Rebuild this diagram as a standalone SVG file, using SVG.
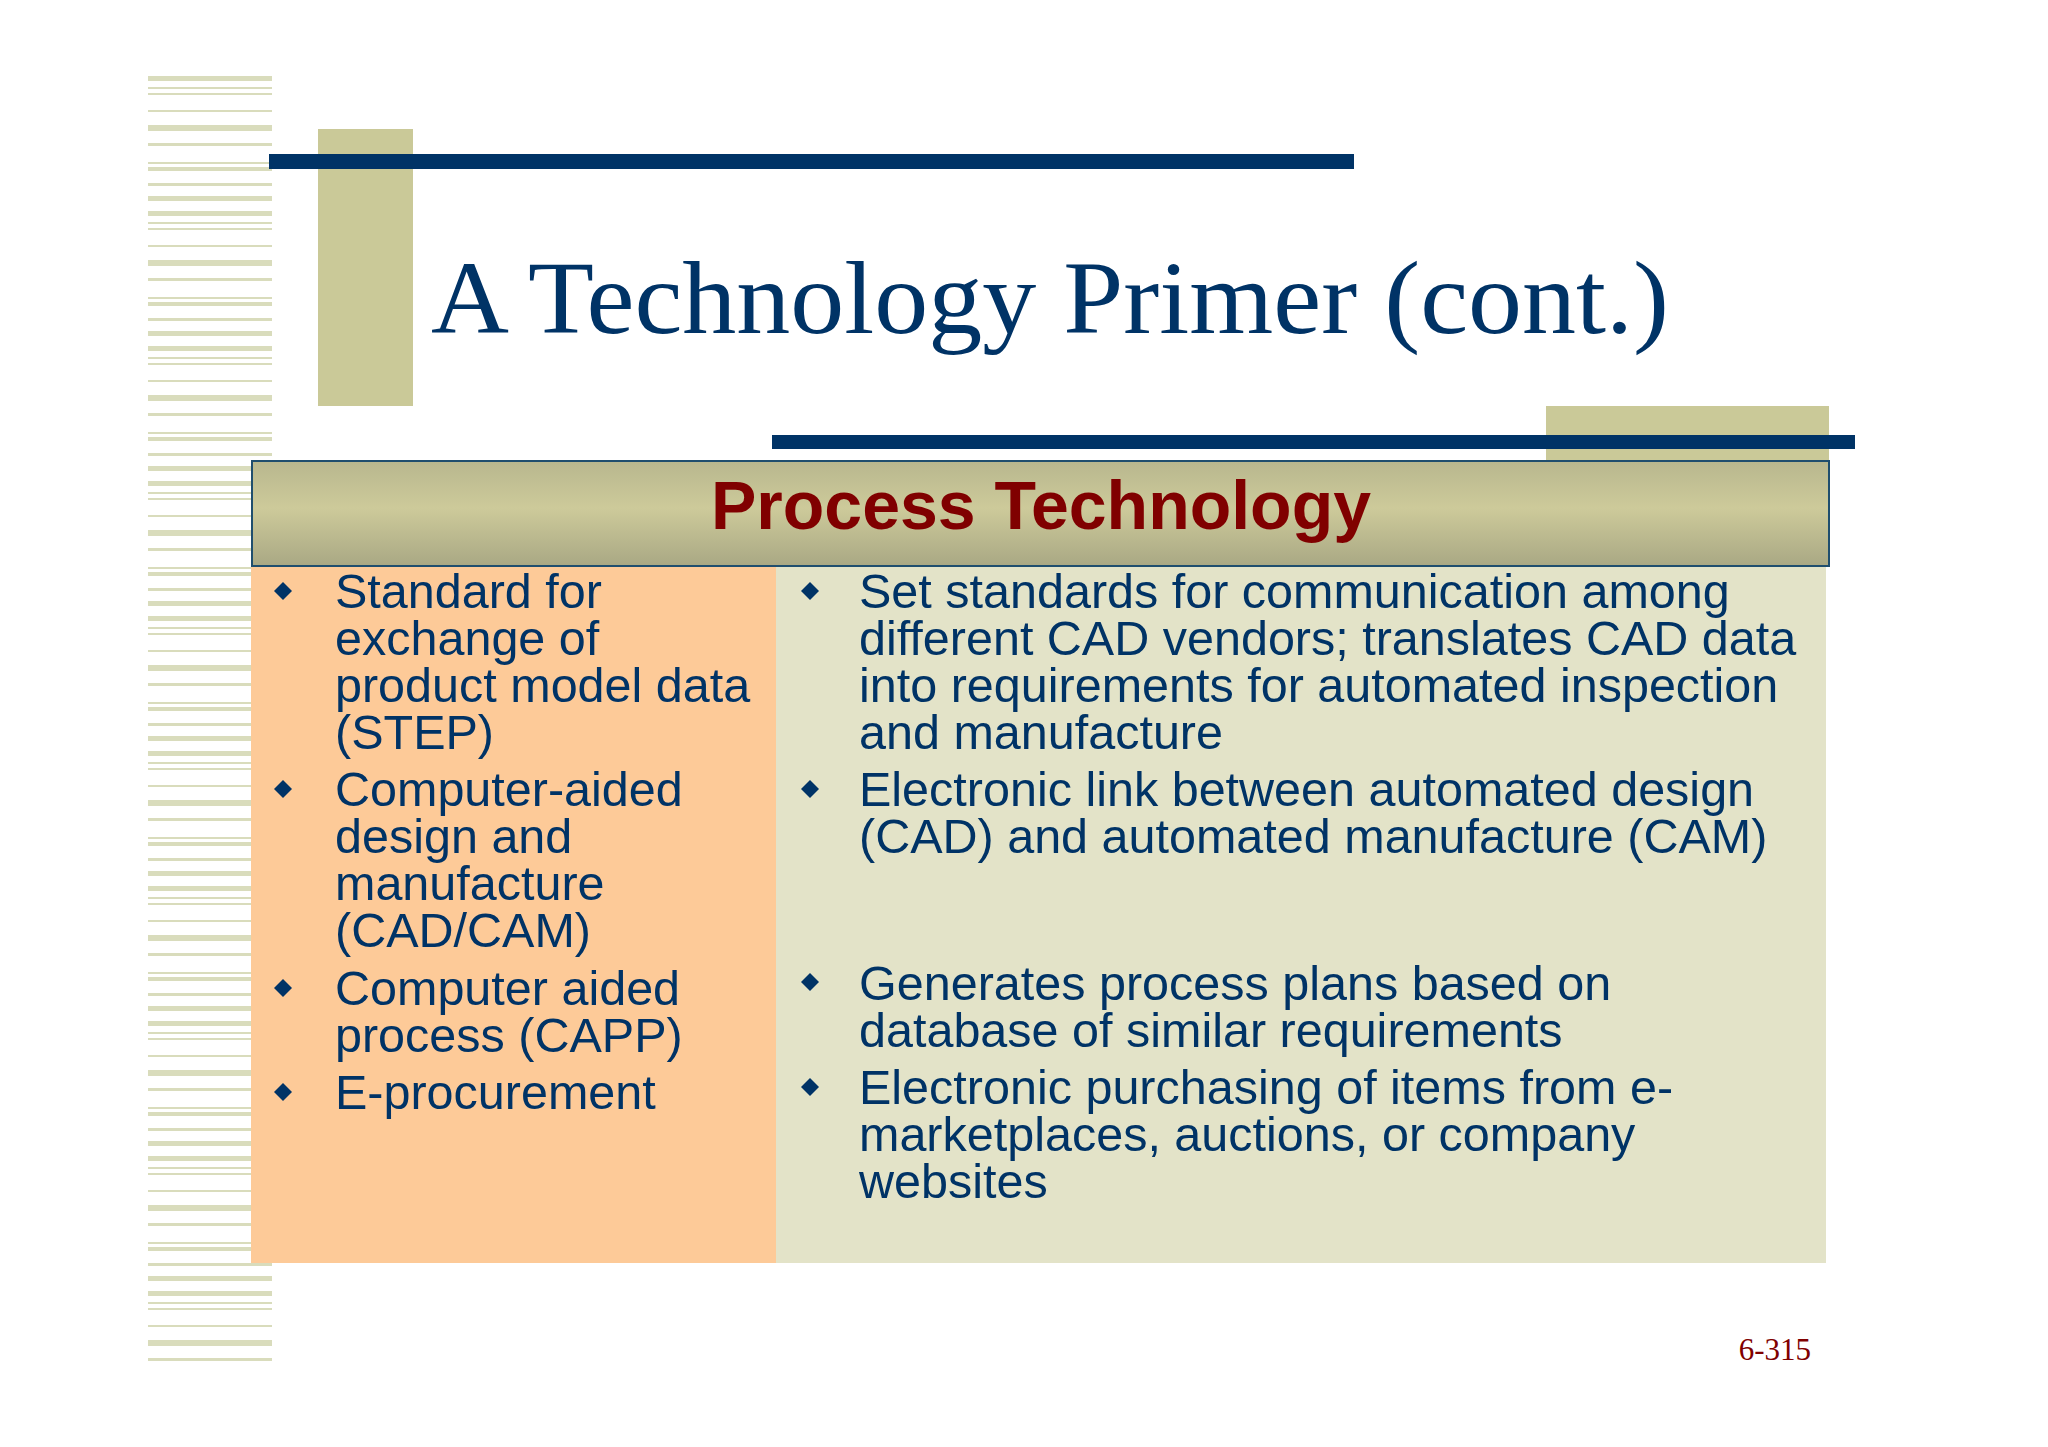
<svg xmlns="http://www.w3.org/2000/svg" width="2048" height="1447" viewBox="0 0 2048 1447">
<defs>
<pattern id="stripes" x="148" y="76" width="124" height="135" patternUnits="userSpaceOnUse">
<g fill="#d9dcbc">
<rect x="0" y="0" width="124" height="5"/><rect x="0" y="11" width="124" height="2"/><rect x="0" y="17" width="124" height="2"/>
<rect x="0" y="34" width="124" height="2"/><rect x="0" y="49" width="124" height="6"/><rect x="0" y="67" width="124" height="3"/>
<rect x="0" y="86" width="124" height="2"/><rect x="0" y="91" width="124" height="4"/><rect x="0" y="107" width="124" height="3"/>
<rect x="0" y="120" width="124" height="5"/>
</g>
</pattern>
<linearGradient id="hdr" x1="0" y1="0" x2="0" y2="1">
<stop offset="0" stop-color="#b8b78e"/><stop offset="0.45" stop-color="#cdca9a"/><stop offset="1" stop-color="#a9a884"/>
</linearGradient>
<path id="dia" d="M0,-9 L9,0 L0,9 L-9,0 Z" fill="#003366"/>
<style>
.t{font-family:"Liberation Sans",Arial,sans-serif;font-size:48.5px;fill:#003366}
</style>
</defs>
<rect width="2048" height="1447" fill="#ffffff"/>
<rect x="148" y="76" width="124" height="1294" fill="url(#stripes)"/>
<rect x="318" y="129" width="95" height="277" fill="#cac998"/>
<rect x="269" y="154" width="1085" height="15" fill="#003366"/>
<text x="431" y="333" font-family="Liberation Serif,'Times New Roman',serif" font-size="104" fill="#003366" textLength="1238" lengthAdjust="spacingAndGlyphs">A Technology Primer (cont.)</text>
<rect x="1546" y="406" width="283" height="55" fill="#cac998"/>
<rect x="772" y="435" width="1083" height="14" fill="#003366"/>
<g id="left-col"><rect x="251" y="566" width="525" height="697" fill="#fdca98"/></g>
<g id="right-col"><rect x="776" y="566" width="1050" height="697" fill="#e3e3c8"/></g>
<g id="header">
<rect x="252" y="461" width="1577" height="105" fill="url(#hdr)" stroke="#1f4e6e" stroke-width="2"/>
<text x="1041" y="529" text-anchor="middle" font-family="Liberation Sans,Arial,sans-serif" font-weight="bold" font-size="68" fill="#800000">Process Technology</text>
</g>
<g id="left-text">
<use href="#dia" x="283" y="591"/>
<text class="t" x="335" y="608">Standard for</text>
<text class="t" x="335" y="655">exchange of</text>
<text class="t" x="335" y="702">product model data</text>
<text class="t" x="335" y="749">(STEP)</text>
<use href="#dia" x="283" y="789"/>
<text class="t" x="335" y="806">Computer-aided</text>
<text class="t" x="335" y="853">design and</text>
<text class="t" x="335" y="900">manufacture</text>
<text class="t" x="335" y="947">(CAD/CAM)</text>
<use href="#dia" x="283" y="988"/>
<text class="t" x="335" y="1005">Computer aided</text>
<text class="t" x="335" y="1052">process (CAPP)</text>
<use href="#dia" x="283" y="1092"/>
<text class="t" x="335" y="1109">E-procurement</text>
</g>
<g id="right-text">
<use href="#dia" x="810" y="591"/>
<text class="t" x="859" y="608">Set standards for communication among</text>
<text class="t" x="859" y="655">different CAD vendors; translates CAD data</text>
<text class="t" x="859" y="702">into requirements for automated inspection</text>
<text class="t" x="859" y="749">and manufacture</text>
<use href="#dia" x="810" y="789"/>
<text class="t" x="859" y="806">Electronic link between automated design</text>
<text class="t" x="859" y="853">(CAD) and automated manufacture (CAM)</text>
<use href="#dia" x="810" y="982"/>
<text class="t" x="859" y="1000">Generates process plans based on</text>
<text class="t" x="859" y="1047">database of similar requirements</text>
<use href="#dia" x="810" y="1087"/>
<text class="t" x="859" y="1104">Electronic purchasing of items from e-</text>
<text class="t" x="859" y="1151">marketplaces, auctions, or company</text>
<text class="t" x="859" y="1198">websites</text>
</g>
<text x="1811" y="1360" text-anchor="end" font-family="Liberation Serif,'Times New Roman',serif" font-size="31" fill="#800000">6-315</text>
</svg>
